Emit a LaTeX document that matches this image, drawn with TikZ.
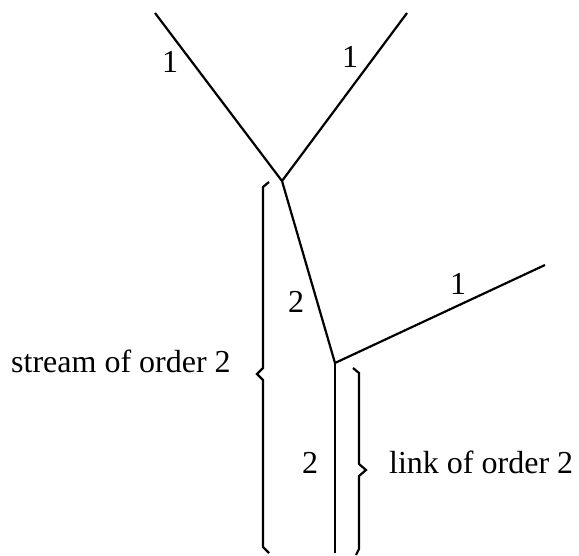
\documentclass[tikz,border=0pt]{standalone}
\usepackage{fontspec}
\setmainfont{Liberation Serif}
\begin{document}
\begin{tikzpicture}[x=1pt,y=-1pt,
  seg/.style={line width=2.2pt},
  brc/.style={line width=2.2pt, line join=miter},
  lbl/.style={inner sep=0pt, anchor=base, font=\fontsize{32}{38}\selectfont},
  txt/.style={inner sep=0pt, anchor=base west, font=\fontsize{32}{38}\selectfont}]
\useasboundingbox (0,0) rectangle (579,556);
% tree points
\coordinate (tl) at (155,13);
\coordinate (tr) at (407,13);
\coordinate (j1) at (282,181);
\coordinate (j2) at (335,363);
\coordinate (er) at (545,265);
\coordinate (bot) at (335,553);
\draw[seg] (tl) -- (j1);
\draw[seg] (tr) -- (j1);
\draw[seg] (j1) -- (j2);
\draw[seg] (j2) -- (er);
\draw[seg] (j2) -- (bot);
% braces
\draw[brc] (269,182) -- (263,187) -- (263,368) -- (257,374) -- (263,380) -- (263,547) -- (269,553);
\draw[brc] (353,368) -- (359,373) -- (359,464) -- (366,470) -- (359,476) -- (359,549) -- (356,555);
% labels
\node[lbl] (l1) at (170,73) {1};
\node[lbl] (l2) at (350,68) {1};
\node[lbl] (l3) at (296,313) {2};
\node[lbl] (l4) at (458,295) {1};
\node[lbl] (l5) at (310,473) {2};
\node[txt] (s) at (11,373) {stream of order 2};
\node[txt] (k) at (389,473) {link of order 2};
\end{tikzpicture}
\end{document}
